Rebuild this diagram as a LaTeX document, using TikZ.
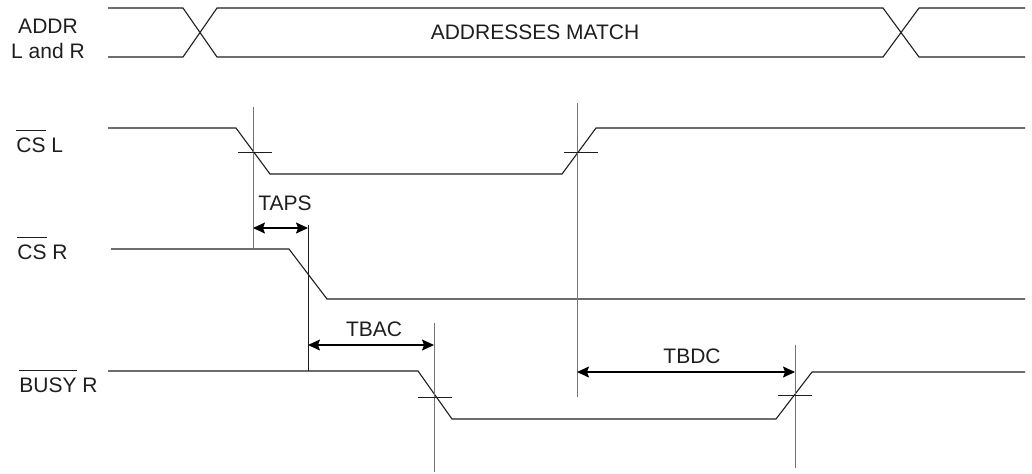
\documentclass[tikz,border=0pt]{standalone}
\usepackage{fontspec}
\setmainfont{Liberation Sans}
\usepackage{tikz}
\usetikzlibrary{arrows.meta,positioning}
\definecolor{wave}{RGB}{30,30,30}
\definecolor{markgrey}{RGB}{115,115,115}
\newcommand{\actlow}[1]{$\overline{\mbox{\rule{0pt}{0.88em}#1}}$}
\tikzset{
  sig/.style={draw=wave,line width=0.55pt,line join=miter},
  markln/.style={draw=markgrey,line width=0.5pt},
  crossln/.style={draw=wave,line width=0.45pt},
  dim/.style={{Stealth[length=6pt,width=5.5pt,inset=1pt]}-{Stealth[length=6pt,width=5.5pt,inset=1pt]},
              draw=black,line width=0.55pt},
  lbl/.style={font=\fontsize{10.5}{12}\selectfont,inner sep=0pt,text=wave},
  siglbl/.style={lbl,anchor=base west},
}

\begin{document}
\begin{tikzpicture}[x=0.5pt,y=-0.5pt]
  \useasboundingbox (0,0) rectangle (1032,473);

  % signal names
  \node[lbl,anchor=base] (addr)  at (48,33)  {ADDR};
  \node[lbl,anchor=base] (addr2) at (48,58)  {L and R};
  \node[siglbl] (csl)  at (16,152) {\actlow{CS} L};
  \node[siglbl] (csr)  at (17,259) {\actlow{CS} R};
  \node[siglbl] (busy) at (19,392) {\actlow{BUSY} R};

  % address bus
  \draw[sig] (108,8) -- (183,8) -- (217,57) -- (883,57) -- (919,8) -- (1025,8);
  \draw[sig] (108,57) -- (183,57) -- (217,8) -- (883,8) -- (919,57) -- (1025,57);
  \node[lbl,anchor=base] (match) at (535,39) {ADDRESSES MATCH};

  % waveforms
  \draw[sig] (108,128) -- (236,128) -- (270,174) -- (562,174) -- (596,128) -- (1025,128);
  \draw[sig] (111,249) -- (289,249) -- (327,299) -- (1025,299);
  \draw[sig] (108,371) -- (418,371) -- (452,419) -- (776,419) -- (812,372) -- (1025,372);

  % reference lines
  \coordinate (m1t) at (253,107); \coordinate (m1b) at (253,250);
  \coordinate (m2t) at (577,103); \coordinate (m2b) at (577,397);
  \coordinate (m3t) at (308,225); \coordinate (m3b) at (308,371);
  \coordinate (m4t) at (434,323); \coordinate (m4b) at (434,472);
  \coordinate (m5t) at (795,345); \coordinate (m5b) at (795,468);
  \foreach \m in {m1,m2,m4,m5}
    \draw[markln] (\m t) -- (\m b);
  \draw[crossln] (m3t) -- (m3b);

  % crossing ticks
  \draw[crossln] (238,152) -- (272,152);
  \draw[crossln] (564,152) -- (598,152);
  \draw[crossln] (418,397) -- (452,397);
  \draw[crossln] (778,395) -- (812,395);

  % timing arrows
  \coordinate (taps1) at (m1t |- 0,228); \coordinate (taps2) at (m3t |- 0,228);
  \coordinate (tbac1) at (m3t |- 0,345); \coordinate (tbac2) at (m4t |- 0,345);
  \coordinate (tbdc1) at (m2t |- 0,372); \coordinate (tbdc2) at (m5t |- 0,372);
  \draw[dim] (taps1) -- (taps2);
  \draw[dim] (tbac1) -- (tbac2);
  \draw[dim] (tbdc1) -- (tbdc2);
  \node[lbl,anchor=base] (taps) at (285,210) {TAPS};
  \node[lbl,anchor=base] (tbac) at (374,336) {TBAC};
  \node[lbl,anchor=base] (tbdc) at (692,363) {TBDC};
\end{tikzpicture}
\end{document}
